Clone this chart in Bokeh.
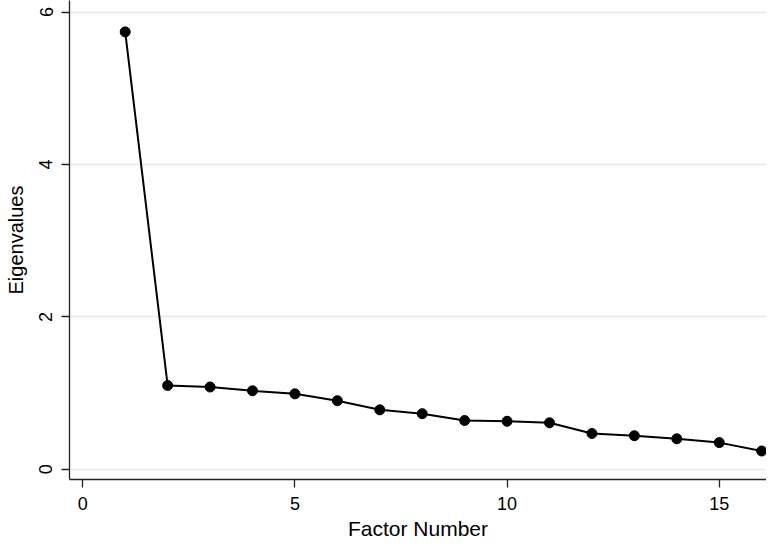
from bokeh.plotting import figure
from bokeh.models import Range1d, FixedTicker, ColumnDataSource
from bokeh.embed import file_html
from bokeh.resources import INLINE

# Data
factor_number = list(range(1, 17))
eigenvalues = [5.74, 1.10, 1.08, 1.03, 0.99, 0.90, 0.78, 0.73, 0.64, 0.63,
               0.61, 0.47, 0.44, 0.40, 0.35, 0.24]
x_ticks = [0, 5, 10, 15]
y_ticks = [0, 2, 4, 6]

FONT = "Liberation Sans"

src = ColumnDataSource(data=dict(x=factor_number, y=eigenvalues))

p = figure(width=766, height=542, output_backend="svg", toolbar_location=None,
           x_range=Range1d(-0.313, 16.114), y_range=Range1d(-0.134, 6.152),
           min_border_left=69, min_border_right=0, min_border_top=0,
           min_border_bottom=60)

p.outline_line_color = None
p.background_fill_color = "white"
p.border_fill_color = "white"

p.line("x", "y", source=src, line_color="black", line_width=2)
p.scatter("x", "y", source=src, size=10, fill_color="black", line_color="black")

# grids
p.xgrid.grid_line_color = None
p.ygrid.ticker = FixedTicker(ticks=y_ticks)
p.ygrid.grid_line_color = "#e8e8e8"
p.ygrid.grid_line_width = 1.5

# axes
for ax in (p.xaxis[0], p.yaxis[0]):
    ax.axis_line_color = "#222222"
    ax.axis_line_width = 1.3
    ax.major_tick_line_color = "#222222"
    ax.major_tick_line_width = 1.3
    ax.major_tick_in = 0
    ax.major_tick_out = 8
    ax.minor_tick_line_color = None
    ax.major_label_text_font = FONT
    ax.major_label_text_font_size = "18px"
    ax.major_label_text_color = "black"
    ax.axis_label_text_font = FONT
    ax.axis_label_text_font_style = "normal"
    ax.axis_label_text_color = "black"

p.xaxis[0].ticker = FixedTicker(ticks=x_ticks)
p.yaxis[0].ticker = FixedTicker(ticks=y_ticks)
p.xaxis[0].axis_label = "Factor Number"
p.yaxis[0].axis_label = "Eigenvalues"
p.xaxis[0].axis_label_text_font_size = "21px"
p.yaxis[0].axis_label_text_font_size = "20px"
p.yaxis[0].major_label_orientation = "vertical"
p.xaxis[0].major_label_standoff = 9
p.yaxis[0].major_label_standoff = 9
p.xaxis[0].axis_label_standoff = 4
p.yaxis[0].axis_label_standoff = 10

open("out.html", "w").write(file_html(p, INLINE))
